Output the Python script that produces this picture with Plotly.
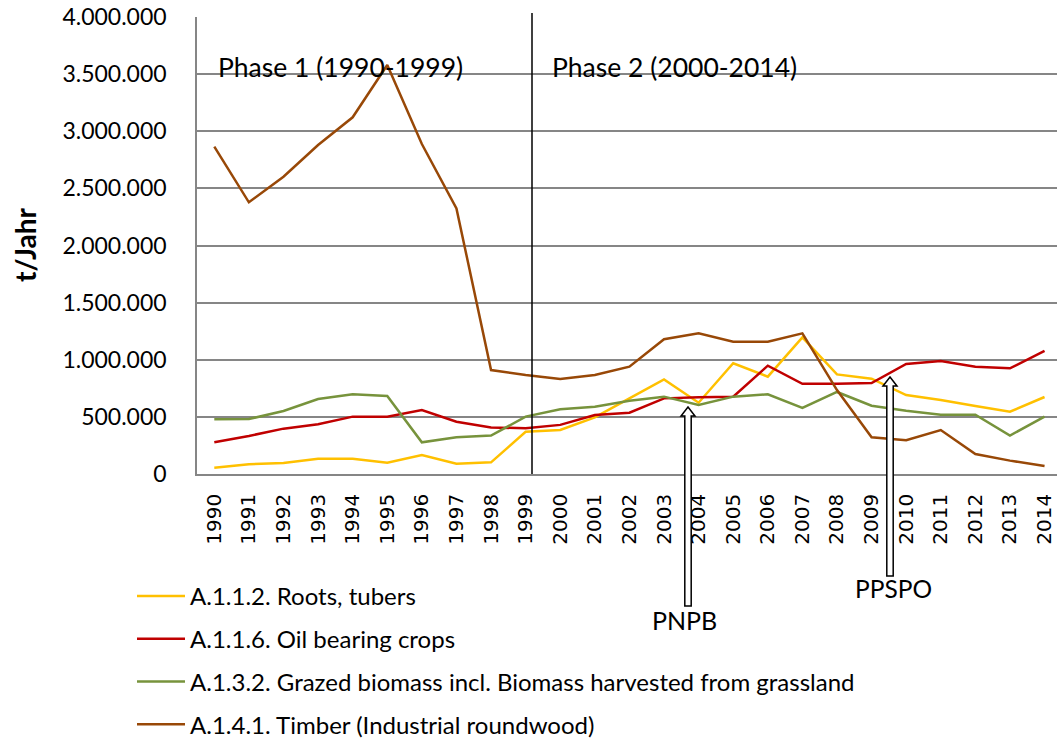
import plotly.graph_objects as go

years = list(range(1990, 2015))

roots_tubers = [55000, 85000, 96000, 134000, 134000, 99000, 166000, 90000, 102000, 370000,
                385000, 496000, 662000, 828000, 624000, 969000, 852000, 1196000, 872000, 834000,
                691000, 648000, 595000, 545000, 674000]
oil_crops = [277000, 333000, 397000, 435000, 502000, 502000, 560000, 458000, 408000, 400000,
             430000, 516000, 537000, 662000, 671000, 677000, 948000, 790000, 790000, 796000,
             963000, 989000, 939000, 925000, 1077000]
grazed = [479000, 481000, 551000, 656000, 697000, 683000, 277000, 321000, 336000, 502000,
          566000, 589000, 642000, 677000, 604000, 677000, 697000, 578000, 718000, 598000,
          554000, 519000, 519000, 336000, 502000]
timber = [2865000, 2378000, 2602000, 2880000, 3122000, 3580000, 2888000, 2325000, 910000, 866000,
          831000, 866000, 939000, 1179000, 1231000, 1158000, 1158000, 1231000, 735000, 321000,
          295000, 385000, 175000, 117000, 70000]

series_names = [
    "A.1.1.2. Roots, tubers",
    "A.1.1.6. Oil bearing crops",
    "A.1.3.2. Grazed biomass incl. Biomass harvested from grassland",
    "A.1.4.1. Timber (Industrial roundwood)",
]
series_values = [roots_tubers, oil_crops, grazed, timber]
colors = ["#FFC000", "#C00000", "#77933C", "#984807"]

W, H = 1057, 738
L, R, T, B = 197, 0, 17, 264
PW, PH = W - L - R, H - T - B


def px(x):
    return (x - L) / PW


def py(y):
    return (H - B - y) / PH


CAL = "Lato, 'Open Sans', sans-serif"

fig = go.Figure()
for i, (name, vals, col) in enumerate(zip(series_names, series_values, colors)):
    fig.add_trace(go.Scatter(x=years, y=vals, mode="lines", name=name,
                             line=dict(color=col, width=2.5),
                             legendgroup="g%d" % i))

shapes = []
# phase separator
shapes.append(dict(type="line", xref="paper", yref="paper",
                   x0=px(532), x1=px(532), y0=py(474), y1=py(13),
                   line=dict(color="black", width=1.5)))


def arrow(xc, ytip, ybot):
    sw = 3.2   # half shaft width
    hw = 7     # half head width
    hh = 9     # head height
    pts = [(xc, ytip), (xc + hw, ytip + hh), (xc + sw, ytip + hh), (xc + sw, ybot),
           (xc - sw, ybot), (xc - sw, ytip + hh), (xc - hw, ytip + hh)]
    path = "M " + " L ".join("%f,%f" % (px(a), py(b)) for a, b in pts) + " Z"
    return dict(type="path", xref="paper", yref="paper", path=path,
                fillcolor="white", line=dict(color="black", width=1.5), layer="above")


shapes.append(arrow(688, 407, 606))
shapes.append(arrow(890, 377, 576))

annotations = [
    dict(text="Phase 1 (1990-1999)", xref="paper", yref="paper", x=px(216), y=py(67),
         xanchor="left", yanchor="middle", showarrow=False, font=dict(family=CAL, size=26.5, color="black")),
    dict(text="Phase 2 (2000-2014)", xref="paper", yref="paper", x=px(550), y=py(67),
         xanchor="left", yanchor="middle", showarrow=False, font=dict(family=CAL, size=26.5, color="black")),
    dict(text="PNPB", xref="paper", yref="paper", x=px(684), y=py(620),
         xanchor="center", yanchor="middle", showarrow=False, font=dict(family=CAL, size=25, color="black")),
    dict(text="PPSPO", xref="paper", yref="paper", x=px(893), y=py(588),
         xanchor="center", yanchor="middle", showarrow=False, font=dict(family=CAL, size=24.5, color="black")),
    dict(text="<b>t/Jahr</b>", xref="paper", yref="paper", x=px(25), y=py(245),
         xanchor="center", yanchor="middle", showarrow=False, textangle=-90,
         font=dict(family=CAL, size=28, color="black")),
]

fig.update_layout(
    width=W, height=H,
    margin=dict(l=L, r=R, t=T, b=B, pad=0, autoexpand=False),
    paper_bgcolor="white", plot_bgcolor="white",
    separators=",.",
    shapes=shapes, annotations=annotations,
    showlegend=True,
    legend=dict(xref="container", yref="container", x=132 / W, y=1 - 574 / H,
                xanchor="left", yanchor="top",
                font=dict(family=CAL, size=24, color="black"),
                tracegroupgap=8.5, bgcolor="rgba(0,0,0,0)", itemwidth=48,
                traceorder="grouped"),
)

fig.update_xaxes(range=[1989.5, 2014.36], tickmode="array", tickvals=years,
                 ticktext=[str(y) for y in years], tickangle=-90, automargin=False,
                 ticklabeloverflow="allow",
                 tickfont=dict(family="DejaVu Sans", size=20, color="black"),
                 showgrid=False, zeroline=False, showline=True, linecolor="#868686", linewidth=1.5,
                 ticks="", ticklabelstandoff=10)
fig.update_yaxes(range=[0, 4000000], tickmode="linear", tick0=0, dtick=500000, tickformat=",d",
                 tickfont=dict(family=CAL, size=23, color="black"), automargin=False,
                 showgrid=True, gridcolor="#868686", gridwidth=1.5, zeroline=False,
                 showline=True, linecolor="#868686", linewidth=1.5, ticks="", ticklabelstandoff=24)

fig.write_html("out.html", config={"displayModeBar": False},
               post_script="document.body.style.margin='0';document.body.style.overflow='hidden';")
